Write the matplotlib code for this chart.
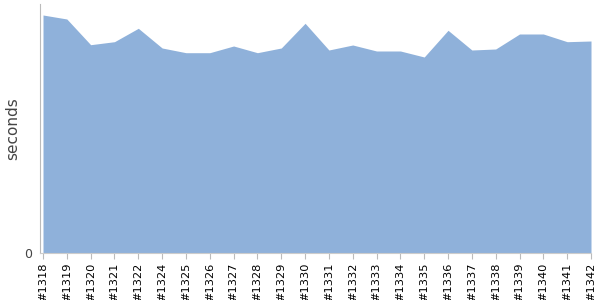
import matplotlib
matplotlib.use("Agg")
import matplotlib.pyplot as plt

builds = ["#1318", "#1319", "#1320", "#1321", "#1322", "#1324", "#1325", "#1326",
          "#1327", "#1328", "#1329", "#1330", "#1331", "#1332", "#1333", "#1334",
          "#1335", "#1336", "#1337", "#1338", "#1339", "#1340", "#1341", "#1342"]
seconds = [238, 234, 208.3, 211.3, 224.7, 205, 200.3, 200.3,
           207, 200.3, 205, 229.7, 203, 208, 202, 202,
           196, 222.7, 203, 204, 219, 219, 211.3, 212]

fig = plt.figure(figsize=(6, 3), dpi=100)
ax = fig.add_axes([40 / 600, 47 / 300, 551 / 600, 249 / 300])

x = list(range(len(builds)))
ax.fill_between(x, seconds, 0, color="#8fb1da", linewidth=0)

ax.set_xlim(-3 / 23.78, len(builds) - 1)
ax.set_ylim(0, 249)
ax.set_xticks(x)
ax.set_xticklabels(builds, rotation=90, fontsize=8.2, family="DejaVu Sans")
ax.set_yticks([0])
ax.set_yticklabels(["0"], fontsize=9, color="#444444")
ax.tick_params(axis="x", length=4, color="#bbbbbb", pad=3)
ax.tick_params(axis="y", length=0, pad=6)

for side in ["top", "right"]:
    ax.spines[side].set_visible(False)
ax.spines["left"].set_color("#bbbbbb")
ax.spines["bottom"].set_color("#cccccc")

ax.set_ylabel("seconds", fontsize=11, color="#444444")
ax.yaxis.set_label_coords(-20 / 551, 0.5)

fig.savefig("out.png", dpi=100)
